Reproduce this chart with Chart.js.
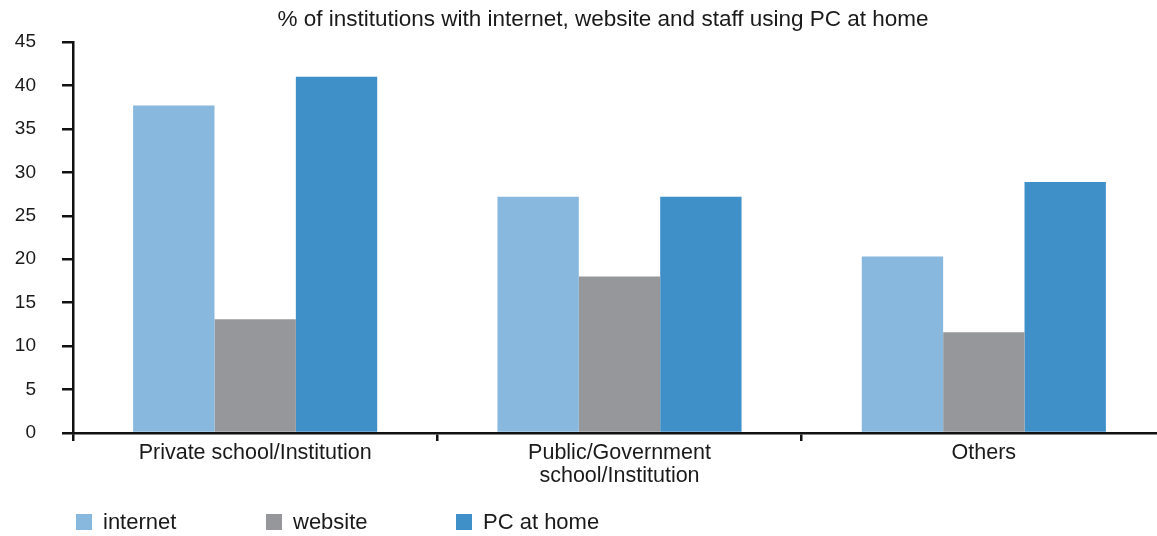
<!DOCTYPE html>
<html>
<head>
<meta charset="utf-8">
<title>% of institutions with internet, website and staff using PC at home</title>
<script src="https://cdn.jsdelivr.net/npm/chart.js@4/dist/chart.umd.min.js"></script>
<style>
  html, body { margin: 0; padding: 0; background: #ffffff; overflow: hidden; }
  /* the plot runs slightly past the right edge; the frame clips it */
  #wrap { width: 1157px; height: 536px; overflow: hidden; }
  #chart { display: block; }
</style>
</head>
<body>
<div id="wrap"><canvas id="chart" width="1166" height="536"></canvas></div>
<script>
// Institution types and the share (%) of each with internet, a website and staff using a PC at home
const categories = [
  'Private school/Institution',
  ['Public/Government', 'school/Institution'],
  'Others'
];
const seriesNames = ['internet', 'website', 'PC at home'];
const internetValues = [37.7, 27.2, 20.3];
const websiteValues = [13.1, 18.0, 11.6];
const pcAtHomeValues = [41.0, 27.2, 28.9];
const yTickValues = [0, 5, 10, 15, 20, 25, 30, 35, 40, 45];

const chartTitle = '% of institutions with internet, website and staff using PC at home';
const FONT = "'Liberation Sans', Arial, Helvetica, sans-serif";
const TEXT = '#1a1a1a';
const COLORS = ['#88b8de', '#96979b', '#3f8fc9'];

// Title and a fixed-pitch legend row drawn straight onto the canvas
const annotations = {
  id: 'annotations',
  afterDraw(chart) {
    const ctx = chart.ctx;
    ctx.save();
    ctx.fillStyle = TEXT;
    ctx.font = '22.5px ' + FONT;
    ctx.textAlign = 'center';
    ctx.textBaseline = 'middle';
    ctx.fillText(chartTitle, 603, 20);

    ctx.font = '22px ' + FONT;
    ctx.textAlign = 'left';
    chart.data.datasets.forEach((ds, i) => {
      const x = 76 + i * 190;
      ctx.fillStyle = ds.backgroundColor;
      ctx.fillRect(x, 514, 16, 16);
      ctx.fillStyle = TEXT;
      ctx.fillText(ds.label, x + 27, 523);
    });
    ctx.restore();
  }
};

new Chart(document.getElementById('chart'), {
  type: 'bar',
  data: {
    labels: categories,
    datasets: [
      { label: seriesNames[0], data: internetValues, backgroundColor: COLORS[0] },
      { label: seriesNames[1], data: websiteValues, backgroundColor: COLORS[1] },
      { label: seriesNames[2], data: pcAtHomeValues, backgroundColor: COLORS[2] }
    ]
  },
  options: {
    responsive: false,
    animation: false,
    devicePixelRatio: 1,
    layout: { padding: { top: 42, left: 0, right: 0, bottom: 0 } },
    datasets: { bar: { barPercentage: 1.0, categoryPercentage: 0.67, borderWidth: 0 } },
    plugins: {
      legend: { display: false },
      title: { display: false },
      tooltip: { enabled: false }
    },
    scales: {
      x: {
        offset: true,
        grid: {
          offset: true,
          drawOnChartArea: false,
          drawTicks: true,
          tickLength: 8,
          lineWidth: 2.5,
          color: (c) => (c.type === 'tick' ? '#111' : 'rgba(0,0,0,0)')
        },
        border: { display: true, color: '#111', width: 2.5 },
        ticks: {
          color: TEXT,
          font: { family: FONT, size: 21.5, lineHeight: 1.08 },
          padding: 0,
          maxRotation: 0,
          autoSkip: false
        },
        afterFit(scale) { scale.height = 103; }
      },
      y: {
        min: 0,
        max: 45,
        afterBuildTicks(scale) { scale.ticks = yTickValues.map(v => ({ value: v })); },
        grid: {
          drawOnChartArea: false,
          drawTicks: true,
          tickLength: 11,
          lineWidth: 2.5,
          color: '#111'
        },
        border: { display: true, color: '#111', width: 2.5 },
        ticks: {
          color: TEXT,
          font: { family: FONT, size: 19 },
          padding: 26
        },
        afterFit(scale) { scale.width = 73; }
      }
    }
  },
  plugins: [annotations]
});
</script>
</body>
</html>
